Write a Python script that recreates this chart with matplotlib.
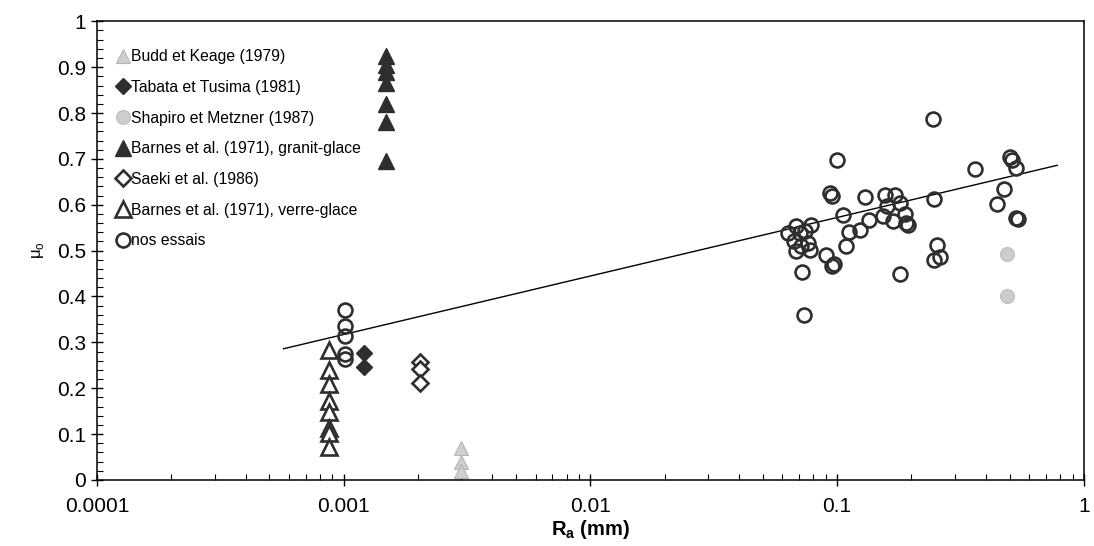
import numpy as np
import matplotlib
matplotlib.use("Agg")
import matplotlib.pyplot as plt
from matplotlib.ticker import FixedLocator, MultipleLocator, NullFormatter

plt.rcParams['font.family'] = ['Liberation Sans', 'DejaVu Sans']

# Budd et Keage (1979)
budd_x = [0.0030, 0.0030, 0.0030]
budd_y = [0.07, 0.04, 0.02]

# Tabata et Tusima (1981)
tabata_x = [0.00121, 0.00121]
tabata_y = [0.277, 0.247]

# Shapiro et Metzner (1987)
shapiro_x = [0.49, 0.49]
shapiro_y = [0.493, 0.40]

# Barnes et al. (1971), granit-glace
granit_x = [0.00149] * 7
granit_y = [0.925, 0.905, 0.89, 0.865, 0.82, 0.78, 0.695]

# Saeki et al. (1986)
saeki_x = [0.00204, 0.00204, 0.00204]
saeki_y = [0.258, 0.242, 0.212]

# Barnes et al. (1971), verre-glace
verre_x = [0.00087] * 8
verre_y = [0.284, 0.240, 0.210, 0.172, 0.148, 0.114, 0.103, 0.072]

# nos essais
essais_x = [0.00101, 0.00101, 0.00101, 0.00101, 0.00101,
            0.245, 0.0998, 0.0937, 0.095, 0.130, 0.156, 0.172, 0.160, 0.180,
            0.189, 0.191, 0.193, 0.153, 0.168, 0.135, 0.124, 0.112, 0.106,
            0.109, 0.247, 0.362, 0.502, 0.510, 0.530, 0.476, 0.445, 0.533,
            0.540, 0.255, 0.247, 0.261, 0.180, 0.0719, 0.0732, 0.0901,
            0.0975, 0.095, 0.0635, 0.0682, 0.0704, 0.0739, 0.0785, 0.0671,
            0.0761, 0.0682, 0.0779, 0.0717]
essais_y = [0.371, 0.335, 0.313, 0.275, 0.263,
            0.788, 0.697, 0.625, 0.620, 0.617, 0.622, 0.622, 0.598, 0.603,
            0.579, 0.560, 0.556, 0.575, 0.565, 0.566, 0.544, 0.541, 0.577,
            0.509, 0.613, 0.678, 0.704, 0.698, 0.681, 0.635, 0.602, 0.572,
            0.568, 0.513, 0.480, 0.486, 0.450, 0.453, 0.359, 0.490,
            0.471, 0.466, 0.539, 0.553, 0.539, 0.542, 0.555, 0.520,
            0.517, 0.499, 0.501, 0.509]

# trend line end points
trend_x = [0.00057, 0.78]
trend_y = [0.286, 0.686]

xticks = [0.0001, 0.001, 0.01, 0.1, 1]
xticklabels = ['0.0001', '0.001', '0.01', '0.1', '1']
yticks = [0, 0.1, 0.2, 0.3, 0.4, 0.5, 0.6, 0.7, 0.8, 0.9, 1]
yticklabels = ['0', '0.1', '0.2', '0.3', '0.4', '0.5', '0.6', '0.7',
               '0.8', '0.9', '1']

dark = '#2e2e2e'
fig = plt.figure(figsize=(10.94, 5.46), dpi=100)
ax = fig.add_axes([0.0887, 0.121, 0.902, 0.84])

ms = 10
mew = 1.9
ax.plot(trend_x, trend_y, color='black', lw=1.0, zorder=1)
ax.plot(budd_x, budd_y, ls='none', marker='^', ms=ms, mfc='#cfcfcf',
        mec='#b5b5b5', mew=0.8, label='Budd et Keage (1979)')
ax.plot(tabata_x, tabata_y, ls='none', marker='D', ms=8.5, mfc=dark,
        mec=dark, mew=1, label='Tabata et Tusima (1981)')
ax.plot(shapiro_x, shapiro_y, ls='none', marker='o', ms=ms, mfc='#cdcdcd',
        mec='#bdbdbd', mew=0.8, label='Shapiro et Metzner (1987)')
ax.plot(granit_x, granit_y, ls='none', marker='^', ms=ms + 2, mfc=dark,
        mec=dark, mew=1, label='Barnes et al. (1971), granit-glace')
ax.plot(saeki_x, saeki_y, ls='none', marker='D', ms=8, mfc='white',
        mec=dark, mew=mew, label='Saeki et al. (1986)')
ax.plot(verre_x, verre_y, ls='none', marker='^', ms=ms + 1, mfc='white',
        mec=dark, mew=mew, label='Barnes et al. (1971), verre-glace')
ax.plot(essais_x, essais_y, ls='none', marker='o', ms=ms, mfc='none',
        mec=dark, mew=mew, label='nos essais')

ax.set_xscale('log')
ax.set_xlim(1e-4, 1)
ax.set_ylim(0, 1)

ax.xaxis.set_major_locator(FixedLocator(xticks))
ax.set_xticklabels(xticklabels)
ax.xaxis.set_minor_locator(matplotlib.ticker.LogLocator(base=10, subs=np.arange(2, 10)))
ax.xaxis.set_minor_formatter(NullFormatter())
ax.yaxis.set_major_locator(FixedLocator(yticks))
ax.set_yticklabels(yticklabels)
ax.yaxis.set_minor_locator(MultipleLocator(0.02))

ax.tick_params(which='major', direction='inout', length=9, width=1,
               labelsize=15, color='black')
ax.tick_params(which='minor', direction='in', length=4, width=0.8)
ax.tick_params(axis='x', which='major', pad=8)
for s in ax.spines.values():
    s.set_linewidth(1.1)

ax.set_xlabel(r'R$_\mathregular{a}$ (mm)', fontsize=14.5, fontweight='bold',
              labelpad=1)
ax.set_ylabel(r'μ$_\mathregular{o}$', fontsize=12, labelpad=8)

ax.legend(loc='upper left', frameon=False, fontsize=11.3, handlelength=0.8,
          handletextpad=0.1, labelspacing=1.0, borderaxespad=0.0,
          bbox_to_anchor=(0.014, 0.953), markerscale=1.0, numpoints=1)

fig.savefig('out.png', dpi=100)
